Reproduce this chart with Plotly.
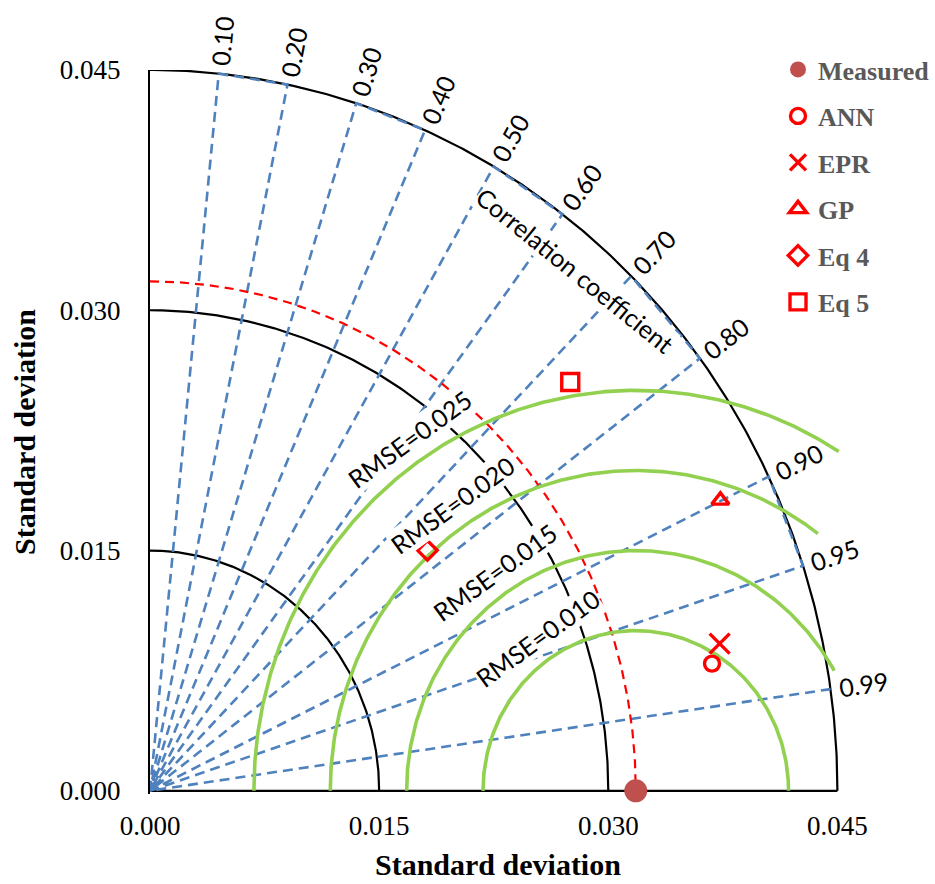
import numpy as np
import plotly.graph_objects as go

# ---------------- data ----------------
std_ticks = [0.000, 0.015, 0.030, 0.045]
std_tick_text = ["0.000", "0.015", "0.030", "0.045"]
std_arcs = [0.015, 0.030, 0.045]
corr_values = [0.10, 0.20, 0.30, 0.40, 0.50, 0.60, 0.70, 0.80, 0.90, 0.95, 0.99]
corr_labels = ["0.10", "0.20", "0.30", "0.40", "0.50", "0.60", "0.70", "0.80", "0.90", "0.95", "0.99"]
rmse_values = [0.010, 0.015, 0.020, 0.025]
rmse_labels = ["RMSE=0.010", "RMSE=0.015", "RMSE=0.020", "RMSE=0.025"]
measured_std = 0.0318
model_names = ["ANN", "EPR", "GP", "Eq 4", "Eq 5"]
model_x = [0.03679, 0.03729, 0.03734, 0.01816, 0.02751]
model_y = [0.00794, 0.00919, 0.01813, 0.01501, 0.02552]
axis_title = "Standard deviation"

# ---------------- styling / geometry ----------------
W, H = 935, 884
ML, MR, MT, MB = 150, 93, 70, 90
XR = [0.0, 0.0453]
YR = [-0.0002, 0.045]
PW = W - ML - MR
PH = H - MT - MB
SX = PW / (XR[1] - XR[0])
SY = PH / (YR[1] - YR[0])
R_MAX = std_arcs[-1]
rmse_end_deg = {0.010: 0.0, 0.015: 30.0, 0.020: 53.4, 0.025: 57.9}

SERIF = "Liberation Serif, Times New Roman, serif"
SANS = "Lato, Carlito, Calibri, sans-serif"
RED = "#FF0000"
BLUE = "#4F81BD"
GREEN = "#92D050"

fig = go.Figure()

# black std-dev arcs
for r in std_arcs:
    t = np.radians(np.linspace(0, 90, 300))
    fig.add_trace(go.Scatter(x=r * np.cos(t), y=r * np.sin(t), mode="lines",
                             line=dict(color="black", width=2.2),
                             showlegend=False, hoverinfo="skip"))

# x baseline
fig.add_trace(go.Scatter(x=[0, R_MAX], y=[0, 0], mode="lines",
                         line=dict(color="black", width=2.2),
                         showlegend=False, hoverinfo="skip"))

# blue correlation rays (drawn in pairs, joined along the outer arc)
bx, by = [0.0], [0.0]
for i in range(0, len(corr_values), 2):
    grp = corr_values[i:i + 2]
    for c in grp:
        a = np.arccos(c)
        bx.append(R_MAX * np.cos(a))
        by.append(R_MAX * np.sin(a))
    if len(grp) == 2:
        bx.append(0.0)
        by.append(0.0)
fig.add_trace(go.Scatter(x=bx, y=by, mode="lines",
                         line=dict(color=BLUE, width=2.6, dash="10px,6px"),
                         showlegend=False, hoverinfo="skip"))

# red dashed arc at the measured std
t = np.radians(np.linspace(90, 0, 300))
fig.add_trace(go.Scatter(x=measured_std * np.cos(t), y=measured_std * np.sin(t), mode="lines",
                         line=dict(color=RED, width=2.2, dash="9px,6px"),
                         showlegend=False, hoverinfo="skip"))

# green RMSE arcs
for r in rmse_values:
    t = np.radians(np.linspace(180, rmse_end_deg[r], 300))
    fig.add_trace(go.Scatter(x=measured_std + r * np.cos(t), y=r * np.sin(t), mode="lines",
                             line=dict(color=GREEN, width=3.6),
                             showlegend=False, hoverinfo="skip"))

# points
fig.add_trace(go.Scatter(x=[measured_std], y=[0.0], mode="markers", name="Measured",
                         legendgroup="m", cliponaxis=False,
                         marker=dict(symbol="circle", size=23, color="#C0504D")))
symbols = ["circle-open", "x-thin-open", "triangle-up-open", "diamond-open", "square-open"]
sizes = [15, 20, 15, 15, 17]
for i, nm in enumerate(model_names):
    fig.add_trace(go.Scatter(x=[model_x[i]], y=[model_y[i]], mode="markers", name=nm,
                             legendgroup=nm, cliponaxis=False,
                             marker=dict(symbol=symbols[i], size=sizes[i], color=RED,
                                         line=dict(color=RED, width=3.4))))

annotations = []
# correlation labels outside the outer arc
for c, lab in zip(corr_values, corr_labels):
    a = np.arccos(c)
    phi = np.arctan2(np.sin(a) * SY, np.cos(a) * SX)
    d = 33
    annotations.append(dict(x=R_MAX * np.cos(a), y=R_MAX * np.sin(a), xref="x", yref="y",
                            text=lab, showarrow=False, textangle=-np.degrees(phi),
                            xshift=d * np.cos(phi), yshift=d * np.sin(phi),
                            font=dict(family=SANS, size=25, color="black")))

annotations.append(dict(x=0.02783, y=0.03253, xref="x", yref="y", text="Correlation coefficient",
                        showarrow=False, textangle=39, bgcolor="white", borderpad=0,
                        font=dict(family=SANS, size=25, color="black")))

# RMSE labels
ang = np.radians(124)
for r, lab in zip(rmse_values, rmse_labels):
    annotations.append(dict(x=measured_std + (r + 0.0015) * np.cos(ang),
                            y=(r + 0.0015) * np.sin(ang), xref="x", yref="y",
                            text=lab, showarrow=False, textangle=-36,
                            bgcolor="white", borderpad=0,
                            font=dict(family=SANS, size=25, color="black")))

# x-axis title (placed as annotation for exact position)
annotations.append(dict(x=0.0228, xref="x", y=((MT + PH) - 864) / PH, yref="paper",
                        yanchor="middle", text="<b>" + axis_title + "</b>", showarrow=False,
                        font=dict(family=SERIF, size=30, color="black")))

fig.update_layout(
    width=W, height=H,
    margin=dict(l=ML, r=MR, t=MT, b=MB, autoexpand=False),
    plot_bgcolor="white", paper_bgcolor="white",
    annotations=annotations,
    showlegend=True,
    legend=dict(xref="container", yref="container", x=778 / W, y=1 - 46 / H,
                xanchor="left", yanchor="top", tracegroupgap=9.7,
                font=dict(family=SERIF, size=26, color="#595959", weight="bold"),
                bgcolor="rgba(0,0,0,0)"),
    xaxis=dict(range=XR, showgrid=False, zeroline=False, showline=False, automargin=False,
               tickvals=std_ticks, ticktext=std_tick_text, ticks="",
               ticklabelstandoff=13,
               tickfont=dict(family=SERIF, size=27, color="black")),
    yaxis=dict(range=YR, showgrid=False, zeroline=False, showline=True, automargin=False,
               linecolor="black", linewidth=2.2,
               tickvals=std_ticks, ticktext=std_tick_text, ticks="",
               ticklabelstandoff=22,
               tickfont=dict(family=SERIF, size=27, color="black"),
               title=dict(text="<b>" + axis_title + "</b>", standoff=15,
                          font=dict(family=SERIF, size=30, color="black"))),
    hovermode=False,
)

fig.write_html("out.html")
